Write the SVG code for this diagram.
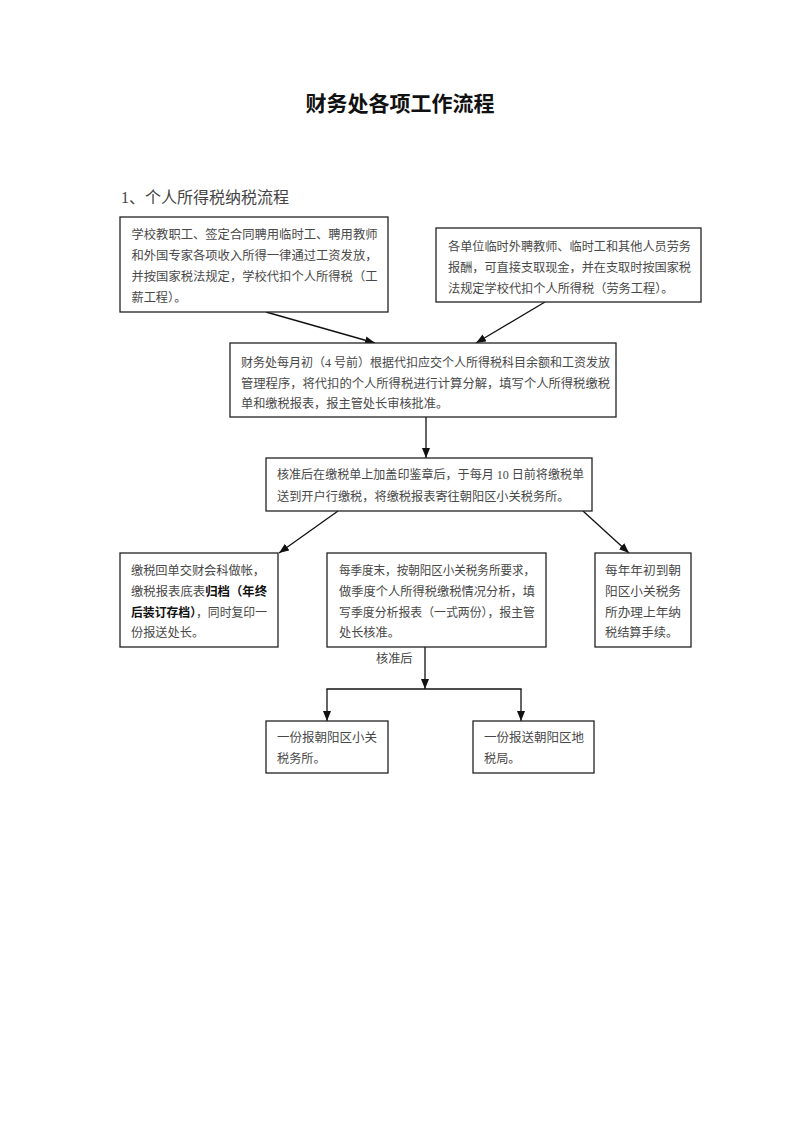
<svg xmlns="http://www.w3.org/2000/svg" width="800" height="1131" viewBox="0 0 800 1131">
<style>
  .box { fill: #ffffff; stroke: #222; stroke-width: 1.3; }
  .t { font-family: "Liberation Serif", "Noto Sans CJK SC", serif; font-size: 12.2px; fill: #484848; }
  .b { font-weight: bold; fill: #111; }
  .title { font-family: "Liberation Serif", "Noto Sans CJK SC", serif; font-size: 21px; font-weight: bold; fill: #111; }
  .sub { font-family: "Liberation Serif", "Noto Sans CJK SC", serif; font-size: 16px; fill: #444; }
  .conn { stroke: #111; stroke-width: 1.3; fill: none; }
</style>
<defs>
  <marker id="arr" markerUnits="userSpaceOnUse" markerWidth="10" markerHeight="8" refX="10" refY="4" orient="auto">
    <path d="M0,0 L10,4 L0,8 z" fill="#111"/>
  </marker>
</defs>
<rect width="800" height="1131" fill="#ffffff"/>
<text class="title" x="400" y="111" text-anchor="middle">财务处各项工作流程</text>
<text class="sub" x="121" y="203">1、个人所得税纳税流程</text>

<g id="connectors">
  <line class="conn" x1="266" y1="312" x2="375" y2="343" marker-end="url(#arr)"/>
  <line class="conn" x1="545" y1="302" x2="476" y2="343" marker-end="url(#arr)"/>
  <line class="conn" x1="426" y1="417" x2="426" y2="458" marker-end="url(#arr)"/>
  <line class="conn" x1="338" y1="511" x2="279" y2="553" marker-end="url(#arr)"/>
  <line class="conn" x1="583" y1="511" x2="629" y2="553" marker-end="url(#arr)"/>
  <line class="conn" x1="425" y1="647" x2="425" y2="689" marker-end="url(#arr)"/>
  <line class="conn" x1="326.4" y1="689" x2="521.6" y2="689"/>
  <line class="conn" x1="327" y1="689" x2="327" y2="721" marker-end="url(#arr)"/>
  <line class="conn" x1="521" y1="689" x2="521" y2="721" marker-end="url(#arr)"/>
  <text class="t" x="376" y="662.5">核准后</text>
</g>

<g id="nodeA">
  <rect class="box" x="120" y="217" width="268" height="95"/>
  <text class="t" x="131.5" y="238.5" textLength="246" lengthAdjust="spacingAndGlyphs">学校教职工、签定合同聘用临时工、聘用教师</text>
  <text class="t" x="131.5" y="259.5" textLength="246" lengthAdjust="spacingAndGlyphs">和外国专家各项收入所得一律通过工资发放，</text>
  <text class="t" x="131.5" y="280.5" textLength="246" lengthAdjust="spacingAndGlyphs">并按国家税法规定，学校代扣个人所得税（工</text>
  <text class="t" x="131.5" y="301.5">薪工程）。</text>
</g>

<g id="nodeB">
  <rect class="box" x="436" y="228" width="265" height="74"/>
  <text class="t" x="448" y="250.5" textLength="243" lengthAdjust="spacingAndGlyphs">各单位临时外聘教师、临时工和其他人员劳务</text>
  <text class="t" x="448" y="271.5" textLength="243" lengthAdjust="spacingAndGlyphs">报酬，可直接支取现金，并在支取时按国家税</text>
  <text class="t" x="448" y="292.5">法规定学校代扣个人所得税（劳务工程）。</text>
</g>

<g id="nodeC">
  <rect class="box" x="230" y="343" width="386" height="74"/>
  <text class="t" x="241" y="366.5" textLength="369" lengthAdjust="spacingAndGlyphs">财务处每月初（4 号前）根据代扣应交个人所得税科目余额和工资发放</text>
  <text class="t" x="241" y="387.5" textLength="369" lengthAdjust="spacingAndGlyphs">管理程序，将代扣的个人所得税进行计算分解，填写个人所得税缴税</text>
  <text class="t" x="241" y="408">单和缴税报表，报主管处长审核批准。</text>
</g>

<g id="nodeD">
  <rect class="box" x="266" y="458" width="326" height="53"/>
  <text class="t" x="277" y="478.5" textLength="307" lengthAdjust="spacingAndGlyphs">核准后在缴税单上加盖印鉴章后，于每月 10 日前将缴税单</text>
  <text class="t" x="277" y="500.5">送到开户行缴税，将缴税报表寄往朝阳区小关税务所。</text>
</g>

<g id="nodeE">
  <rect class="box" x="120" y="553" width="158" height="94"/>
  <text class="t" x="131" y="574.5">缴税回单交财会科做帐，</text>
  <text class="t" x="131" y="595.5" textLength="136" lengthAdjust="spacingAndGlyphs">缴税报表底表<tspan class="b">归档（年终</tspan></text>
  <text class="t" x="131" y="616.5" textLength="136" lengthAdjust="spacingAndGlyphs"><tspan class="b">后装订存档）</tspan>，同时复印一</text>
  <text class="t" x="131" y="636.5">份报送处长。</text>
</g>

<g id="nodeF">
  <rect class="box" x="327" y="553" width="219" height="94"/>
  <text class="t" x="339" y="574.5" textLength="196" lengthAdjust="spacingAndGlyphs">每季度末，按朝阳区小关税务所要求，</text>
  <text class="t" x="339" y="595.5" textLength="196" lengthAdjust="spacingAndGlyphs">做季度个人所得税缴税情况分析，填</text>
  <text class="t" x="339" y="616.5" textLength="196" lengthAdjust="spacingAndGlyphs">写季度分析报表（一式两份），报主管</text>
  <text class="t" x="339" y="636.5">处长核准。</text>
</g>

<g id="nodeG">
  <rect class="box" x="595" y="553" width="96" height="94"/>
  <text class="t" x="605" y="574.5" textLength="76" lengthAdjust="spacingAndGlyphs">每年年初到朝</text>
  <text class="t" x="605" y="595.5" textLength="76" lengthAdjust="spacingAndGlyphs">阳区小关税务</text>
  <text class="t" x="605" y="616.5" textLength="76" lengthAdjust="spacingAndGlyphs">所办理上年纳</text>
  <text class="t" x="605" y="636.5">税结算手续。</text>
</g>

<g id="nodeH">
  <rect class="box" x="266" y="721" width="122" height="52"/>
  <text class="t" x="277" y="741.5" textLength="100" lengthAdjust="spacingAndGlyphs">一份报朝阳区小关</text>
  <text class="t" x="277" y="762.5">税务所。</text>
</g>

<g id="nodeI">
  <rect class="box" x="473" y="721" width="121" height="52"/>
  <text class="t" x="484" y="741.5" textLength="100" lengthAdjust="spacingAndGlyphs">一份报送朝阳区地</text>
  <text class="t" x="484" y="762.5">税局。</text>
</g>
</svg>
